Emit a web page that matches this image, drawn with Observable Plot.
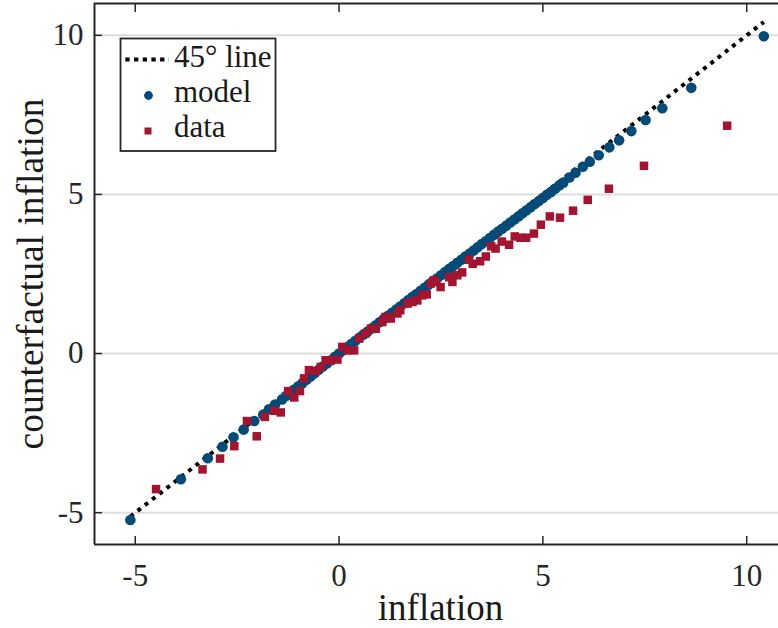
<!DOCTYPE html>
<html><head><meta charset="utf-8">
<script src="https://cdn.jsdelivr.net/npm/d3@7"></script>
<script src="https://cdn.jsdelivr.net/npm/@observablehq/plot@0.6"></script>
<style>
body{margin:0;background:#fff;}
#wrap{position:relative;width:778px;height:628px;overflow:hidden;}
#legend{position:absolute;left:0;top:0;}
</style></head><body><div id="wrap"></div>
<script>
const xTicks = [-5, 0, 5, 10];
const yTicks = [-5, 0, 5, 10];
const lineEnds = [-5.12, 10.42];

const modelX = [-5.12,-3.88,-3.22,-2.86,-2.59,-2.34,-2.08,-1.86,-1.72,-1.57,-1.40,
 -1.30,-1.20,-1.10,-1.00,-0.90,-0.80,-0.70,-0.60,-0.50,-0.40,-0.30,-0.20,-0.10,0.00,
 0.10,0.20,0.30,0.40,0.50,0.60,0.70,0.80,0.90,1.00,1.10,1.20,1.30,1.40,1.50,1.60,1.70,
 1.80,1.90,2.00,2.10,2.20,2.30,2.40,2.50,2.60,2.70,2.80,2.90,3.00,3.10,3.20,3.30,3.40,
 3.50,3.60,3.70,3.80,3.90,4.00,4.10,4.20,4.30,4.40,4.50,4.60,4.70,4.80,4.90,5.00,5.10,
 5.20,5.30,5.40,5.50,5.65,5.80,5.98,6.15,6.37,6.63,6.87,7.17,7.52,7.93,8.64,10.42];
const modelY = [-5.23,-3.95,-3.29,-2.93,-2.63,-2.39,-2.12,-1.92,-1.75,-1.60,-1.44,
 -1.33,-1.23,-1.13,-1.03,-0.93,-0.82,-0.72,-0.62,-0.51,-0.41,-0.31,-0.21,-0.10,0.00,
 0.10,0.20,0.30,0.40,0.50,0.60,0.69,0.79,0.89,0.99,1.09,1.19,1.28,1.38,1.48,1.58,1.68,
 1.78,1.87,1.97,2.07,2.17,2.27,2.36,2.46,2.56,2.66,2.75,2.85,2.95,3.05,3.14,3.24,3.34,
 3.44,3.53,3.63,3.73,3.83,3.92,4.02,4.12,4.21,4.31,4.41,4.50,4.60,4.70,4.79,4.89,4.99,
 5.08,5.18,5.28,5.37,5.53,5.68,5.87,6.03,6.23,6.48,6.70,6.99,7.34,7.71,8.35,9.97];

const dataX = [9.52,7.48,6.62,6.10,5.74,5.42,5.17,4.95,4.78,4.59,4.45,4.31,4.17,3.99,3.84,
 3.73,3.60,3.46,3.28,3.19,3.02,2.90,2.78,2.70,2.49,2.37,2.33,2.25,2.15,2.04,1.92,1.80,1.68,
 1.50,1.43,1.27,1.14,1.06,0.90,0.78,0.65,0.49,0.37,0.21,0.08,-0.04,-0.20,-0.33,-0.45,-0.57,
 -0.74,-0.86,-0.96,-1.10,-1.25,-1.43,-1.59,-1.82,-2.02,-2.26,-2.57,-2.92,-3.35,-4.49];
const dataY = [7.16,5.90,5.18,4.83,4.49,4.27,4.31,4.05,3.77,3.64,3.64,3.68,3.42,3.52,3.30,
 3.37,3.05,2.90,2.82,2.95,2.55,2.46,2.25,2.40,2.09,2.25,2.30,2.20,1.86,1.83,1.67,1.62,1.57,
 1.36,1.26,1.10,1.15,0.99,0.78,0.78,0.63,0.47,0.10,0.10,0.21,-0.19,-0.21,-0.21,-0.42,-0.55,
 -0.52,-0.78,-1.18,-1.38,-1.18,-1.85,-1.80,-1.99,-2.60,-2.12,-2.91,-3.30,-3.64,-4.26];

const xDomain = [-6, 10.78];
const yDomain = [-6, 11];

const blue = "#064a78", red = "#a2142f", ink = "#262626";
const font = "'Liberation Serif', 'Times New Roman', serif";

const model = modelX.map((x, i) => ({x, y: modelY[i]}));
const data = dataX.map((x, i) => ({x, y: dataY[i]}));
const diag = lineEnds.map(v => ({x: v, y: v}));
const fmt = d => String(d);

const chart = Plot.plot({
  width: 778, height: 628,
  marginLeft: 94, marginRight: 0, marginTop: 3, marginBottom: 84,
  x: {domain: xDomain},
  y: {domain: yDomain},
  style: {fontFamily: font, fontSize: "31px", color: ink, background: "#fff"},
  marks: [
    Plot.gridY(yTicks, {stroke: "#dedede", strokeOpacity: 1, strokeWidth: 2}),
    Plot.line(diag, {x: "x", y: "y", stroke: "#000", strokeWidth: 4, strokeLinecap: "butt", strokeDasharray: "4,5.2"}),
    Plot.dot(model, {x: "x", y: "y", r: 5.3, fill: blue}),
    Plot.dot(data, {x: "x", y: "y", symbol: "square", r: 4.8, fill: red}),
    Plot.axisX(xTicks, {anchor: "bottom", tickSize: -8, tickPadding: 27, tickFormat: fmt, label: null, stroke: ink, strokeWidth: 1.5, fill: ink}),
    Plot.axisX(xTicks, {anchor: "top", tickSize: -8, tickFormat: () => "", label: null, stroke: ink, strokeWidth: 1.5}),
    Plot.axisY(yTicks, {anchor: "left", tickSize: -8, tickPadding: 19, tickFormat: fmt, label: null, stroke: ink, strokeWidth: 1.5, fill: ink}),
    Plot.ruleY([yDomain[0], yDomain[1]], {stroke: ink, strokeWidth: 2}),
    Plot.ruleX([xDomain[0]], {stroke: ink, strokeWidth: 2}),
    Plot.text(["inflation"], {frameAnchor: "bottom", textAnchor: "middle", dx: 4, dy: 64, lineAnchor: "middle", fontSize: 37, fill: "#1a1a1a"}),
    Plot.text(["counterfactual inflation"], {frameAnchor: "left", textAnchor: "middle", dx: -64, rotate: -90, lineAnchor: "middle", fontSize: 37.5, fill: "#1a1a1a"})
  ]
});
const wrap = document.getElementById("wrap");
wrap.appendChild(chart);

// legend overlay
const ns = "http://www.w3.org/2000/svg";
const lg = document.createElementNS(ns, "svg");
lg.setAttribute("id", "legend");
lg.setAttribute("width", 778); lg.setAttribute("height", 628);
lg.style.fontFamily = font;
const add = (tag, attrs, text) => {
  const el = document.createElementNS(ns, tag);
  for (const k in attrs) el.setAttribute(k, attrs[k]);
  if (text) el.textContent = text;
  lg.appendChild(el); return el;
};
add("rect", {x: 120.5, y: 38.5, width: 155, height: 112.5, fill: "#fff", stroke: ink, "stroke-width": 1.8});
add("line", {x1: 125.3, y1: 59.5, x2: 169, y2: 59.5, stroke: "#000", "stroke-width": 4.2, "stroke-dasharray": "4.3,4.4"});
add("circle", {cx: 148.5, cy: 95.5, r: 4.4, fill: blue});
add("rect", {x: 144.5, y: 127.5, width: 7, height: 7, fill: red});
const labels = ["45° line", "model", "data"];
const ys = [67, 102, 137];
labels.forEach((t, i) => add("text", {x: 174, y: ys[i], "font-size": 31, fill: "#1a1a1a"}, t));
wrap.appendChild(lg);
</script></body></html>
